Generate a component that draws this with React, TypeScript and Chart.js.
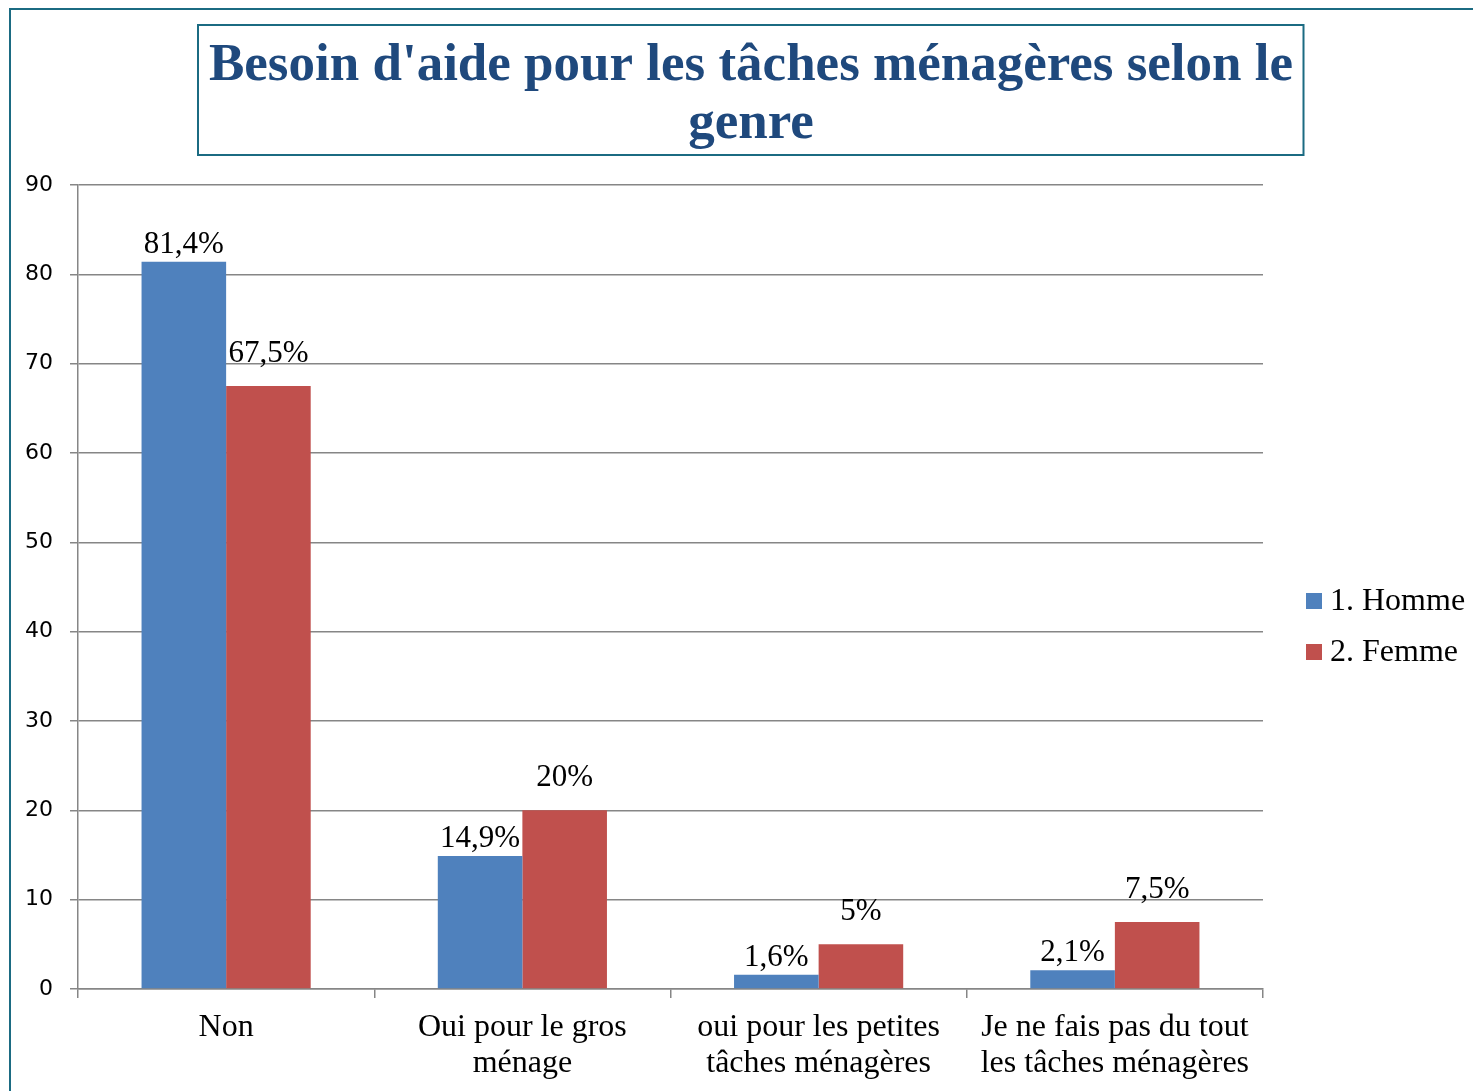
import React, { useEffect, useRef } from 'react';
import { Chart, registerables } from 'chart.js';

Chart.register(...registerables);

const titleLines = ["Besoin d'aide pour les tâches ménagères selon le", 'genre'];
const categories = [
  ['Non'],
  ['Oui pour le gros', 'ménage'],
  ['oui pour les petites', 'tâches ménagères'],
  ['Je ne fais pas du tout', 'les tâches ménagères'],
];
const seriesNames = ['1. Homme', '2. Femme'];
const hommeValues = [81.4, 14.9, 1.6, 2.1];
const femmeValues = [67.5, 20, 5, 7.5];
const yMin = 0;
const yMax = 90;
const yStep = 10;

const BLUE = '#4F81BD';
const RED = '#C0504D';
const FRAME = '#1B6B82';
const GRID = '#868686';
const TITLE_COLOR = '#1F497D';
const SERIF = '"Liberation Serif", "Times New Roman", serif';

const fmt = (v: number) => String(v).replace('.', ',') + '%';

const framePlugin = {
  id: 'frame',
  beforeDraw(chart: any) {
    const ctx = chart.ctx;
    ctx.save();
    ctx.fillStyle = '#ffffff';
    ctx.fillRect(0, 0, chart.width, chart.height);
    ctx.strokeStyle = FRAME;
    ctx.lineWidth = 2;
    ctx.beginPath();
    ctx.moveTo(10, chart.height);
    ctx.lineTo(10, 9);
    ctx.lineTo(chart.width, 9);
    ctx.stroke();
    ctx.strokeRect(198, 25, 1105.5, 130);
    ctx.fillStyle = TITLE_COLOR;
    ctx.font = `bold 53px ${SERIF}`;
    ctx.textAlign = 'center';
    ctx.textBaseline = 'alphabetic';
    const baselines = [80, 138];
    titleLines.forEach((line, i) => ctx.fillText(line, 751, baselines[i]));
    ctx.restore();
  },
};

const dataLabelPlugin = {
  id: 'dataLabels',
  afterDatasetsDraw(chart: any) {
    const ctx = chart.ctx;
    const gaps = [9, 24];
    ctx.save();
    ctx.font = `31px ${SERIF}`;
    ctx.fillStyle = '#000000';
    ctx.textAlign = 'center';
    ctx.textBaseline = 'alphabetic';
    chart.data.datasets.forEach((ds: any, di: number) => {
      const meta = chart.getDatasetMeta(di);
      meta.data.forEach((el: any, i: number) => {
        ctx.fillText(fmt(ds.data[i]), el.x, el.y - gaps[di]);
      });
    });
    ctx.restore();
  },
};

const legendPlugin = {
  id: 'customLegend',
  afterDraw(chart: any) {
    const ctx = chart.ctx;
    ctx.save();
    ctx.font = `32px ${SERIF}`;
    ctx.textAlign = 'left';
    ctx.textBaseline = 'middle';
    const ys = [601, 652];
    chart.data.datasets.forEach((ds: any, di: number) => {
      ctx.fillStyle = ds.backgroundColor;
      ctx.fillRect(1306, ys[di] - 8, 16, 16);
      ctx.fillStyle = '#000000';
      ctx.fillText(ds.label, 1330, ys[di] + 1);
    });
    ctx.restore();
  },
};

export default function App() {
  const ref = useRef<HTMLCanvasElement | null>(null);

  useEffect(() => {
    if (!ref.current) return;
    const chart = new Chart(ref.current, {
      type: 'bar',
      data: {
        labels: categories,
        datasets: [
          {
            label: seriesNames[0],
            data: hommeValues,
            backgroundColor: BLUE,
            barPercentage: 1,
            categoryPercentage: 0.571,
          },
          {
            label: seriesNames[1],
            data: femmeValues,
            backgroundColor: RED,
            barPercentage: 1,
            categoryPercentage: 0.571,
          },
        ],
      },
      options: {
        animation: false,
        responsive: false,
        layout: { padding: { top: 185, left: 0, right: 210, bottom: 0 } },
        plugins: {
          legend: { display: false },
          tooltip: { enabled: false },
          title: { display: false },
        },
        scales: {
          x: {
            grid: {
              display: true,
              drawOnChartArea: false,
              drawTicks: true,
              tickLength: 9,
              color: GRID,
              lineWidth: 1.5,
              offset: true,
            },
            border: { display: true, color: GRID, width: 1.5 },
            ticks: {
              color: '#000000',
              font: { family: SERIF, size: 32, lineHeight: 1.12 },
              padding: 12,
              maxRotation: 0,
              minRotation: 0,
              autoSkip: false,
            },
            afterFit(scale: any) {
              scale.height = 102;
            },
          },
          y: {
            min: yMin,
            max: yMax,
            ticks: {
              stepSize: yStep,
              color: '#000000',
              font: { family: '"DejaVu Sans", sans-serif', size: 22 },
              padding: 17,
            },
            grid: { color: GRID, lineWidth: 1.5, tickLength: 8 },
            border: { display: true, color: GRID, width: 1.5 },
            afterFit(scale: any) {
              scale.width = 78;
            },
          },
        },
      },
      plugins: [framePlugin, dataLabelPlugin, legendPlugin],
    });
    return () => chart.destroy();
  }, []);

  return (
    <div style={{ position: 'absolute', left: 0, top: 0, width: 1473, height: 1091 }}>
      <canvas ref={ref} width={1473} height={1091} />
    </div>
  );
}
